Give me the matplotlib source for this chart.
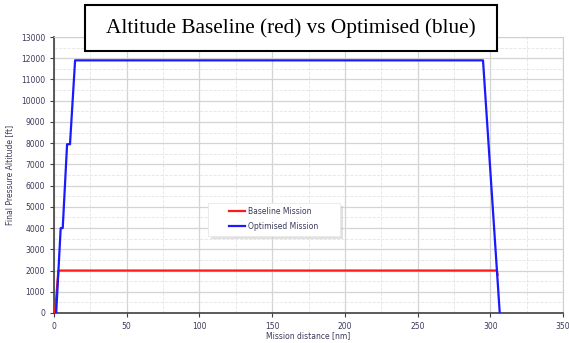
import matplotlib.pyplot as plt
from matplotlib.patches import Rectangle, Shadow
from matplotlib.ticker import MultipleLocator

# mission profiles
baseline_nm = [0.7, 3.0, 304.5, 305.0]
baseline_ft = [0, 2000, 2000, 1800]
optimised_nm = [1.5, 4.6, 6.0, 9.0, 11.0, 14.5, 295.0, 306.5]
optimised_ft = [0, 4000, 4000, 7950, 7950, 11900, 11900, 0]

W, H = 569, 343
fig = plt.figure(figsize=(W / 100, H / 100), dpi=100)
ax = fig.add_axes([54 / W, 1 - 313 / H, 509 / W, 276 / H])

ax.plot(baseline_nm, baseline_ft, color='#ff1a1a', lw=1.6, label='Baseline Mission', zorder=3)
ax.plot(optimised_nm, optimised_ft, color='#1a1aff', lw=1.6, label='Optimised Mission', zorder=4)

ax.set_xlim(0, 350)
ax.set_ylim(0, 13000)
ax.xaxis.set_major_locator(MultipleLocator(50))
ax.xaxis.set_minor_locator(MultipleLocator(25))
ax.yaxis.set_major_locator(MultipleLocator(1000))
ax.yaxis.set_minor_locator(MultipleLocator(500))
ax.grid(which='major', color='#d4d4d4', lw=0.9)
ax.grid(which='minor', color='#e4e4e4', lw=0.6, ls='--')
ax.set_axisbelow(True)

for s in ['left', 'bottom']:
    ax.spines[s].set_color('#404040')
    ax.spines[s].set_linewidth(1.2)
for s in ['top', 'right']:
    ax.spines[s].set_color('#d0d0d0')

ax.tick_params(which='major', labelsize=5.5, labelcolor='#3a3a5a', length=3, color='#404040')
ax.tick_params(which='minor', length=0)
ax.set_xlabel('Mission distance [nm]', fontsize=5.5, color='#3a3a5a', labelpad=0)
ax.set_ylabel('Final Pressure Altitude [ft]', fontsize=5.5, color='#3a3a5a', labelpad=5)

# legend box with a soft shadow, drawn by hand so the entries sit inset
box = Rectangle((0.3026, 0.279), 0.2594, 0.1196, transform=ax.transAxes,
                fc='white', ec='#e8e8e8', lw=0.6, zorder=5)
shadow = Shadow(box, 2.5 / W * 1.0, -2.5 / H, fc='#c4c4c4', ec='none', zorder=4.9)
shadow.set_transform(ax.transAxes)
ax.add_patch(shadow)
ax.add_patch(box)
leg = ax.legend(loc='upper left', bbox_to_anchor=(0.344, 0.384), fontsize=5.5,
                frameon=False, handlelength=2.1, handletextpad=0.4,
                borderpad=0, labelspacing=0.8, borderaxespad=0)
leg.set_zorder(6)
for t in leg.get_texts():
    t.set_color('#3a3a5a')

# boxed title overlapping the top of the plot
fig.patches.append(Rectangle((85 / W, 1 - 51 / H), 412 / W, 46 / H, transform=fig.transFigure,
                             fc='white', ec='black', lw=1.5, zorder=9))
fig.text(291 / W, 1 - 28 / H, 'Altitude Baseline (red) vs Optimised (blue)',
         ha='center', va='center', fontsize=15.3, family='Liberation Serif', zorder=10)

fig.savefig('out.png', dpi=100)
